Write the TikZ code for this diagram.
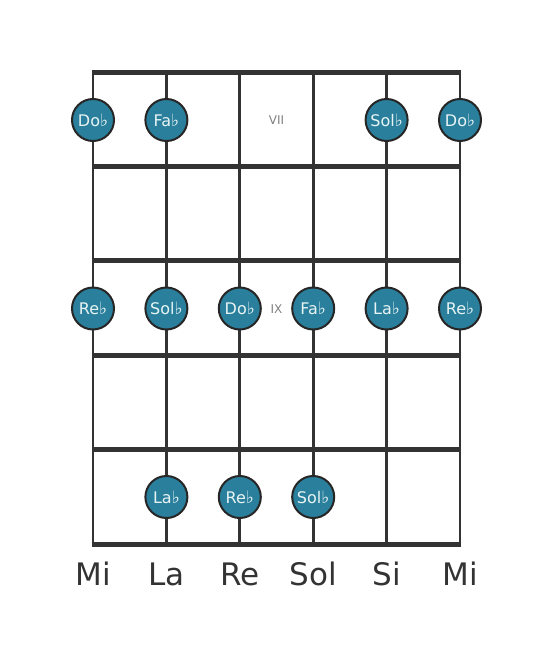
\documentclass[tikz,border=0pt]{standalone}
\usepackage{fontspec}
\setmainfont{DejaVu Sans}
\definecolor{note}{HTML}{2A7F9C}
\definecolor{ink}{HTML}{333333}
\definecolor{rim}{HTML}{262626}
\definecolor{notetext}{HTML}{E8F4F4}
\newcommand{\fl}{{\fontsize{17}{17}\selectfont ♭}}
\tikzset{
  fretline/.style={line width=5pt, draw=ink},
  stringline/.style={line width=2.8pt, draw=ink},
  notedot/.style={circle, fill=note, draw=rim, line width=2pt, minimum size=42pt, inner sep=0pt, text=notetext, font=\fontsize{16}{16}\selectfont},
  strlabel/.style={text=ink, font=\fontsize{31}{31}\selectfont, anchor=base},
  fretnum/.style={text=gray, font=\fontsize{12}{12}\selectfont}
}
\begin{document}
\begin{tikzpicture}[x=1pt,y=-1pt]
\useasboundingbox (0,0) rectangle (553,656);
% coordinates
\foreach \i/\x in {1/93,2/166.4,3/239.8,4/313.2,5/386.6,6/460}{
  \coordinate (s\i t) at (\x,72);
  \coordinate (s\i b) at (\x,544);
}
\foreach \j/\y in {0/72,1/166.4,2/260.8,3/355.2,4/449.6,5/544}{
  \coordinate (f\j l) at (91.6,\y);
  \coordinate (f\j r) at (461.4,\y);
}
\foreach \j in {0,...,5}{ \draw[fretline] (f\j l) -- (f\j r); }
\foreach \i in {1,...,6}{ \draw[stringline] (s\i t) -- (s\i b); }
% fret numbers
\node[fretnum] (vii) at (276.5,120) {VII};
\node[fretnum] (ix) at (276.5,309) {IX};
% row 1 (fret VII)
\node[notedot] (a1) at (93,120) {Do\fl};
\node[notedot] (a2) at (166.4,120) {Fa\fl};
\node[notedot] (a5) at (386.6,120) {Sol\fl};
\node[notedot] (a6) at (460,120) {Do\fl};
% row 3 (fret IX)
\node[notedot] (b1) at (93,308.5) {Re\fl};
\node[notedot] (b2) at (166.4,308.5) {Sol\fl};
\node[notedot] (b3) at (239.8,308.5) {Do\fl};
\node[notedot] (b4) at (313.2,308.5) {Fa\fl};
\node[notedot] (b5) at (386.6,308.5) {La\fl};
\node[notedot] (b6) at (460,308.5) {Re\fl};
% row 5
\node[notedot] (c2) at (166.4,497) {La\fl};
\node[notedot] (c3) at (239.8,497) {Re\fl};
\node[notedot] (c4) at (313.2,497) {Sol\fl};
% string names
\node[strlabel] (n1) at (93,585) {Mi};
\node[strlabel] (n2) at (166.4,585) {La};
\node[strlabel] (n3) at (239.8,585) {Re};
\node[strlabel] (n4) at (313.2,585) {Sol};
\node[strlabel] (n5) at (386.6,585) {Si};
\node[strlabel] (n6) at (460,585) {Mi};
\end{tikzpicture}
\end{document}
